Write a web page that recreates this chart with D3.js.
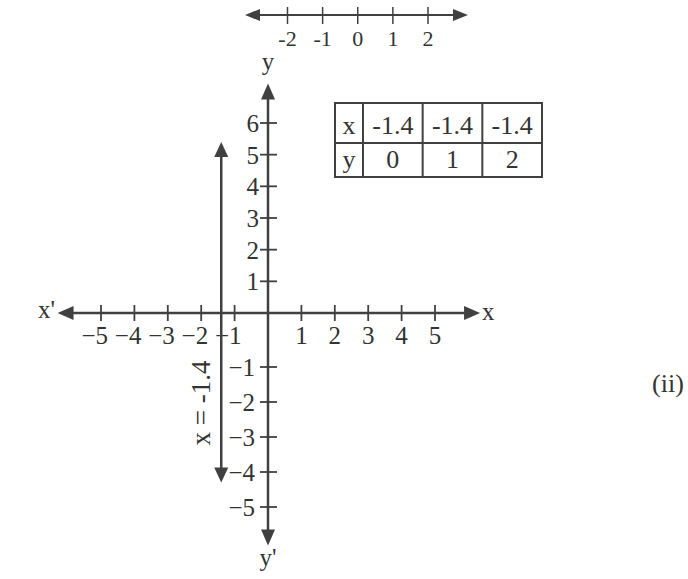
<!DOCTYPE html>
<html>
<head>
<meta charset="utf-8">
<script src="https://cdn.jsdelivr.net/npm/d3@7"></script>
<style>
  body { margin: 0; background: #fff; }
  svg text { font-family: "Liberation Serif", "Times New Roman", serif; fill: #333; }
</style>
</head>
<body>
<svg id="chart" width="688" height="579"></svg>
<script>
// data
var xTicks = [-5, -4, -3, -2, -1, 1, 2, 3, 4, 5];
var yTicks = [6, 5, 4, 3, 2, 1, -1, -2, -3, -4, -5];
var numberLineTicks = [-2, -1, 0, 1, 2];
var tableX = [-1.4, -1.4, -1.4];
var tableY = [0, 1, 2];
var lineX = -1.4;
var lineYRange = [-4.3, 5.4];
var axisExtentX = [-6.3, 6.35];
var axisExtentY = [-6.1, 7.25];

var ink = "#404040";
var svg = d3.select("#chart");

// scales (the drawing leaves a bigger gap between 0 and -1 on the y axis)
var x = d3.scaleLinear().domain([-5, 5]).range([101, 435]);
var y = d3.scaleLinear().domain([-5, -1, 0, 6]).range([507, 367, 313, 123]);
var nl = d3.scaleLinear().domain([-2, 2]).range([287.5, 428]);

function minus(v) { return v < 0 ? "\u2212" + Math.abs(v) : String(v); }

function arrow(g, px, py, dir, len, half) {
  // dir: "r","l","u","d"
  var pts;
  if (dir == "r") pts = [[px, py], [px - len, py - half], [px - len, py + half]];
  if (dir == "l") pts = [[px, py], [px + len, py - half], [px + len, py + half]];
  if (dir == "u") pts = [[px, py], [px - half, py + len], [px + half, py + len]];
  if (dir == "d") pts = [[px, py], [px - half, py - len], [px + half, py - len]];
  g.append("path").attr("d", d3.line()(pts) + "Z").attr("fill", ink);
}

// ---- top number line ----
var numLine = svg.append("g");
numLine.append("line")
  .attr("x1", 250).attr("x2", 462).attr("y1", 15).attr("y2", 15)
  .attr("stroke", ink).attr("stroke-width", 2);
arrow(numLine, 245, 15, "l", 15, 6);
arrow(numLine, 468, 15, "r", 15, 6);
numLine.selectAll(".t").data(numberLineTicks).enter().append("line")
  .attr("x1", d => nl(d)).attr("x2", d => nl(d))
  .attr("y1", 7).attr("y2", 24)
  .attr("stroke", ink).attr("stroke-width", 1.5);
numLine.selectAll(".lbl").data(numberLineTicks).enter().append("text")
  .attr("x", d => nl(d)).attr("y", 46)
  .attr("text-anchor", "middle").attr("font-size", 22)
  .text(d => String(d));

// ---- main axes ----
var ax = svg.append("g");
ax.append("line")
  .attr("x1", x(axisExtentX[0]) + 8).attr("x2", x(axisExtentX[1]) - 8)
  .attr("y1", y(0)).attr("y2", y(0))
  .attr("stroke", ink).attr("stroke-width", 2.5);
arrow(ax, x(axisExtentX[0]), y(0), "l", 16, 7);
arrow(ax, x(axisExtentX[1]), y(0), "r", 16, 7);

ax.append("line")
  .attr("x1", x(0)).attr("x2", x(0))
  .attr("y1", y(axisExtentY[1]) + 8).attr("y2", y(axisExtentY[0]) - 8)
  .attr("stroke", ink).attr("stroke-width", 2.5);
arrow(ax, x(0), y(axisExtentY[1]), "u", 16, 7);
arrow(ax, x(0), y(axisExtentY[0]), "d", 16, 7);

// x ticks
ax.selectAll(".xt").data(xTicks).enter().append("line")
  .attr("x1", d => x(d)).attr("x2", d => x(d))
  .attr("y1", y(0) - 8).attr("y2", y(0) + 8)
  .attr("stroke", ink).attr("stroke-width", 1.8);
ax.selectAll(".xl").data(xTicks).enter().append("text")
  .attr("x", d => d < 0 ? x(d) + 7 : x(d))
  .attr("y", y(0) + 31)
  .attr("text-anchor", d => d < 0 ? "end" : "middle")
  .attr("font-size", 25)
  .text(d => minus(d));

// y ticks
ax.selectAll(".yt").data(yTicks).enter().append("line")
  .attr("x1", x(0) - 8).attr("x2", x(0) + 9)
  .attr("y1", d => y(d)).attr("y2", d => y(d))
  .attr("stroke", ink).attr("stroke-width", 1.8);
ax.selectAll(".yl").data(yTicks).enter().append("text")
  .attr("x", d => d < 0 ? x(0) - 13 : x(0) - 9)
  .attr("y", d => y(d) + 9)
  .attr("text-anchor", "end")
  .attr("font-size", 25)
  .text(d => minus(d));

// axis names
ax.append("text").attr("x", x(0)).attr("y", 70).attr("text-anchor", "middle").attr("font-size", 25).text("y");
ax.append("text").attr("x", x(0)).attr("y", 566).attr("text-anchor", "middle").attr("font-size", 25).text("y'");
ax.append("text").attr("x", 38).attr("y", y(0) + 5).attr("font-size", 25).text("x'");
ax.append("text").attr("x", 482).attr("y", y(0) + 7).attr("font-size", 25).text("x");

// ---- the line x = -1.4 ----
var ln = svg.append("g");
ln.append("line")
  .attr("x1", x(lineX)).attr("x2", x(lineX))
  .attr("y1", y(lineYRange[1]) + 8).attr("y2", y(lineYRange[0]) - 8)
  .attr("stroke", ink).attr("stroke-width", 2.5);
arrow(ln, x(lineX), y(lineYRange[1]), "u", 15, 7);
arrow(ln, x(lineX), y(lineYRange[0]), "d", 15, 7);
ln.append("text")
  .attr("transform", "translate(" + (x(lineX) - 11) + ",403) rotate(-90)")
  .attr("text-anchor", "middle").attr("font-size", 27)
  .text("x = " + lineX);

// ---- table ----
var tb = svg.append("g");
var tLeft = 335, tHead = 363, tRight = 542, tTop = 103, tMid = 143, tBot = 177;
var col = d3.scaleBand().domain(d3.range(tableX.length)).range([tHead, tRight]);
tb.append("rect")
  .attr("x", tLeft).attr("y", tTop).attr("width", tRight - tLeft).attr("height", tBot - tTop)
  .attr("fill", "none").attr("stroke", ink).attr("stroke-width", 2);
tb.append("line").attr("x1", tLeft).attr("x2", tRight).attr("y1", tMid).attr("y2", tMid)
  .attr("stroke", ink).attr("stroke-width", 2);
tb.selectAll(".cd").data(d3.range(tableX.length)).enter().append("line")
  .attr("x1", d => col(d)).attr("x2", d => col(d))
  .attr("y1", tTop).attr("y2", tBot)
  .attr("stroke", ink).attr("stroke-width", 2);
tb.append("text").attr("x", (tLeft + tHead) / 2).attr("y", 134).attr("text-anchor", "middle").attr("font-size", 26).text("x");
tb.append("text").attr("x", (tLeft + tHead) / 2).attr("y", 168).attr("text-anchor", "middle").attr("font-size", 26).text("y");
tb.selectAll(".tx").data(tableX).enter().append("text")
  .attr("x", (d, i) => col(i) + col.bandwidth() / 2).attr("y", 134)
  .attr("text-anchor", "middle").attr("font-size", 26)
  .text(d => String(d));
tb.selectAll(".ty").data(tableY).enter().append("text")
  .attr("x", (d, i) => col(i) + col.bandwidth() / 2).attr("y", 168)
  .attr("text-anchor", "middle").attr("font-size", 26)
  .text(d => String(d));

// figure label
svg.append("text").attr("x", 668).attr("y", 392).attr("text-anchor", "middle").attr("font-size", 26).text("(ii)");
</script>
</body>
</html>
